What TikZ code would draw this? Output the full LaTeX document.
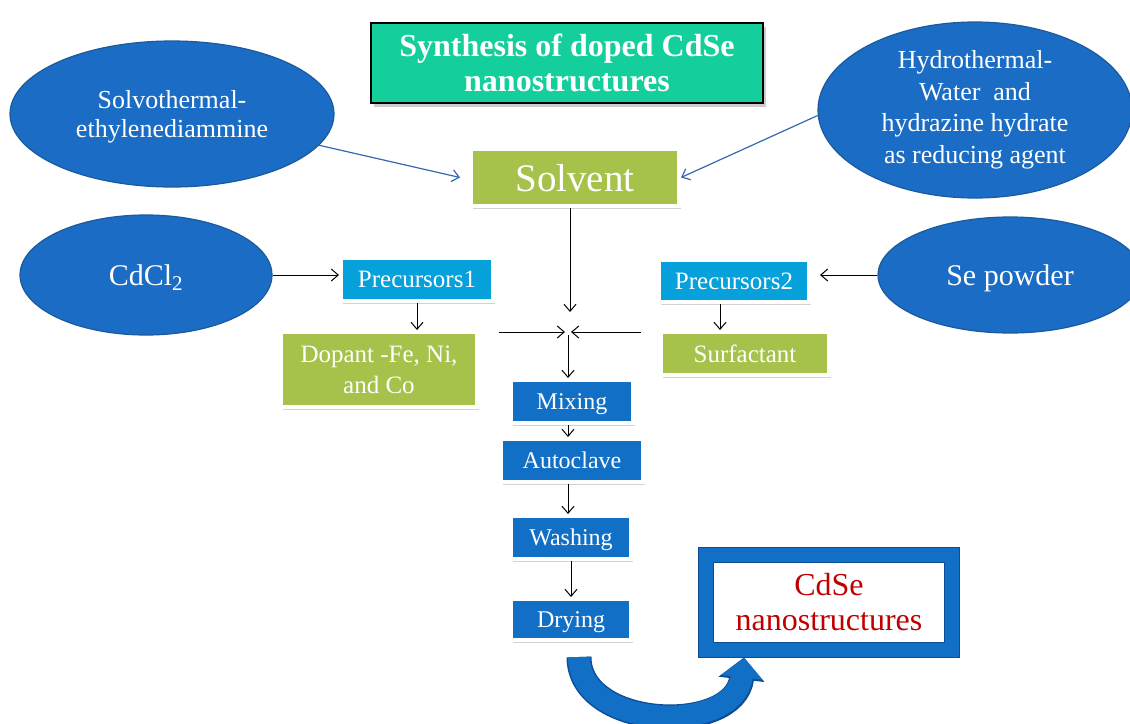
\documentclass[tikz,border=0pt]{standalone}
\usepackage{fontspec}
\setmainfont{Liberation Serif}
\usetikzlibrary{shapes.geometric,shadows,arrows.meta,positioning}

\definecolor{ovalblue}{HTML}{1A6CC4}
\definecolor{ovaledge}{HTML}{1C5A9C}
\definecolor{procblue}{HTML}{1170C6}
\definecolor{precblue}{HTML}{06A0DB}
\definecolor{leafgreen}{HTML}{A6C24B}
\definecolor{titleteal}{HTML}{14CF9C}
\definecolor{linkblue}{HTML}{3569AD}
\definecolor{darkred}{HTML}{C00000}
\definecolor{frameedge}{HTML}{0E4C93}

\tikzset{
  oval/.style={ellipse, fill=ovalblue, draw=ovaledge, line width=1.2pt,
    text=white, inner sep=0pt, align=center},
  plainbox/.style={rectangle, draw=white, line width=4pt, text=white,
    inner sep=0pt, align=center,
    drop shadow={shadow xshift=2pt, shadow yshift=-3pt, opacity=0.35}},
  tealbox/.style={rectangle, fill=titleteal, draw=black, line width=1.5pt,
    minimum width=392pt, minimum height=80pt, text=white, align=center,
    font=\bfseries\fontsize{32}{35}\selectfont,
    drop shadow={shadow xshift=3pt, shadow yshift=-4pt, opacity=0.4}},
  greenbox/.style={plainbox, fill=leafgreen, font=\fontsize{25}{31}\selectfont},
  cyanbox/.style={plainbox, fill=precblue, minimum height=42pt, text depth=0pt,
    font=\fontsize{25}{28}\selectfont},
  procbox/.style={plainbox, fill=procblue, minimum height=43pt, text depth=0pt,
    font=\fontsize{24}{28}\selectfont},
  prodbox/.style={rectangle, fill=white, draw=frameedge, double=procblue,
    double distance=14pt, line width=1pt, outer sep=8pt,
    minimum width=246pt, minimum height=95pt, text=darkred, align=center,
    font=\fontsize{32}{35}\selectfont},
  arr/.style={-{Straight Barb[length=7pt,width=12pt]}, line width=1pt},
  bluearr/.style={arr, draw=linkblue, line width=1.2pt},
  bigarrow/.style={draw=procblue, line width=22pt,
    -{Triangle[length=20pt,width=40pt]},
    preaction={draw=frameedge, line width=25pt,
      -{Triangle[length=22pt,width=45pt]}}}
}

\begin{document}
\begin{tikzpicture}[x=1pt,y=-1pt]
  \useasboundingbox (0,0) rectangle (1130,723);

  \node[tealbox] (title) at (567,63) {Synthesis of doped CdSe\\nanostructures};

  \node[oval, minimum width=324pt, minimum height=146pt, text depth=0pt,
    font=\fontsize{26}{29}\selectfont] (solvo) at (172,114)
    {Solvothermal-\\ethylenediammine};
  \node[oval, minimum width=314pt, minimum height=176pt,
    font=\fontsize{26}{31.5}\selectfont] (hydro) at (975,110)
    {Hydrothermal-\\Water\ \ and\\hydrazine\ hydrate\\as reducing\ agent};
  \node[oval, minimum width=252pt, minimum height=120pt, text depth=0pt,
    font=\fontsize{30}{34}\selectfont] (cdcl) at (146,275) {CdCl\textsubscript{2}};
  \node[oval, minimum width=264pt, minimum height=116pt, text depth=0pt,
    font=\fontsize{30}{34}\selectfont] (se) at (1010,275) {Se powder};

  \node[greenbox, minimum width=208pt, minimum height=57pt, text depth=0pt,
    font=\fontsize{39}{44}\selectfont] (solvent) at (575,177.5) {Solvent};
  \node[cyanbox, minimum width=152pt, minimum height=43pt] (pre1) at (417,279.5) {Precursors1};
  \node[cyanbox, minimum width=150pt] (pre2) at (734,281) {Precursors2};
  \node[greenbox, minimum width=196pt, minimum height=75pt] (dopant) at (379,369.5)
    {Dopant -Fe, Ni,\\and Co};
  \node[greenbox, minimum width=168pt, minimum height=43pt, text depth=0pt] (surf) at (745,353.5) {Surfactant};

  \node[procbox, minimum width=122pt] (mix) at (572,401.5) {Mixing};
  \node[procbox, minimum width=142pt] (auto) at (572,460.5) {Autoclave};
  \node[procbox, minimum width=120pt] (wash) at (571,537.5) {Washing};
  \node[procbox, minimum width=120pt, minimum height=41pt] (dry) at (571,619.5) {Drying};

  \node[prodbox] (prod) at (829,602) {CdSe\\nanostructures};

  \coordinate (solin) at (570,312);
  \coordinate (hub) at (568,332);
  \coordinate (lin) at (499,332);
  \coordinate (rin) at (641,332);
  \coordinate (p2out) at ([xshift=-14pt]pre2.south);
  \coordinate (seout) at (se.west);

  \draw[bluearr] (solvo.-12.6) -- ([xshift=-9pt]solvent.west);
  \draw[bluearr] (hydro.182.5) -- (solvent.east);
  \draw[arr] (solvent.south -| solin) -- (solin);
  \draw[arr] (lin) -- ([xshift=-3pt]hub);
  \draw[arr] (rin) -- ([xshift=3pt]hub);
  \draw[arr] ([yshift=-3pt]hub) -- (hub |- mix.north);
  \draw[arr] (cdcl.east) -- (cdcl.east -| pre1.west);
  \draw[arr] (seout) -- ([xshift=9pt]seout -| pre2.east);
  \draw[arr] (pre1.south) -- (pre1.south |- dopant.north);
  \draw[arr] (p2out) -- (p2out |- surf.north);
  \draw[arr] (hub |- mix.south) -- (hub |- auto.north);
  \draw[arr] (hub |- auto.south) -- (hub |- wash.north);
  \draw[arr] (wash.south) -- (wash.south |- dry.north);

  \draw[bigarrow] ([xshift=8pt,yshift=-15pt]dry.south)
    .. controls +(0,73) and +(-9,78) .. ([xshift=46pt]prod.south west);
\end{tikzpicture}
\end{document}
